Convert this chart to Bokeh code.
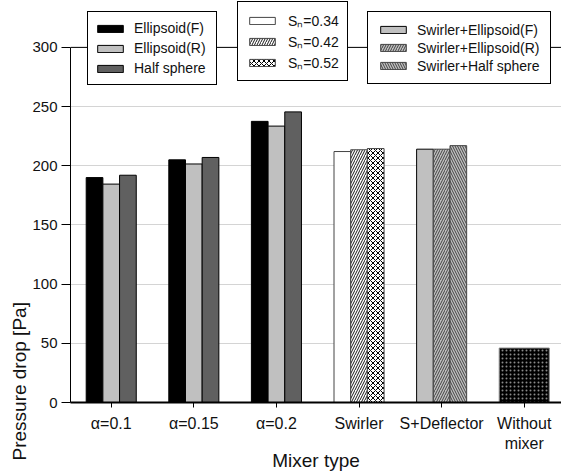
import math
from bokeh.plotting import figure
from bokeh.models import (Range1d, FixedTicker, Legend, LegendItem, Span, Title,
                          ColumnDataSource)
from bokeh.transform import dodge
from bokeh.embed import file_html
from bokeh.resources import INLINE

# ---------------- data ----------------
categories = ["α=0.1", "α=0.15", "α=0.2", "Swirler", "S+Deflector", "Without\nmixer"]
cat_pos = [0, 1, 2, 3, 4, 5]

alpha_pos = [0, 1, 2]
ellipsoid_f = [190.0, 205.0, 237.5]
ellipsoid_r = [184.5, 201.5, 233.5]
half_sphere = [192.0, 207.0, 245.5]

swirler_pos = [3]
sn_labels = ["Sₙ=0.34", "Sₙ=0.42", "Sₙ=0.52"]
swirler_sn034 = [212.0]
swirler_sn042 = [213.5]
swirler_sn052 = [214.5]

deflector_pos = [4]
swirler_ell_f = [214.0]
swirler_ell_r = [214.0]
swirler_half = [217.0]

without_pos = [5]
without_mixer = [46.0]

y_ticks = [0, 50, 100, 150, 200, 250, 300]

FONT = "Liberation Sans"
TXT = "#111111"
BW = 0.202

p = figure(width=561, height=473, x_range=Range1d(-0.493, 5.451), y_range=Range1d(0, 339.6),
           output_backend="svg", toolbar_location=None, title=None,
           min_border_left=70, min_border_right=0, min_border_top=0, min_border_bottom=70)
p.outline_line_color = None
p.xgrid.grid_line_color = None
p.ygrid.grid_line_color = "#d4d4d4"
p.ygrid.ticker = FixedTicker(ticks=y_ticks)

# ---------------- bars ----------------
src_a = ColumnDataSource(dict(x=alpha_pos, f=ellipsoid_f, r=ellipsoid_r, h=half_sphere))
r_f = p.vbar(x=dodge("x", -BW, range=p.x_range), top="f", width=BW, source=src_a,
             fill_color="black", line_color="black", line_width=1)
r_r = p.vbar(x=dodge("x", 0, range=p.x_range), top="r", width=BW, source=src_a,
             fill_color="#c0c0c0", line_color="black", line_width=1)
r_h = p.vbar(x=dodge("x", BW, range=p.x_range), top="h", width=BW, source=src_a,
             fill_color="#606060", line_color="black", line_width=1)

src_s = ColumnDataSource(dict(x=swirler_pos, a=swirler_sn034, b=swirler_sn042, c=swirler_sn052))
r_s1 = p.vbar(x=dodge("x", -BW, range=p.x_range), top="a", width=BW, source=src_s,
              fill_color="white", line_color="#444444", line_width=1)
r_s2 = p.vbar(x=dodge("x", 0, range=p.x_range), top="b", width=BW, source=src_s,
              fill_color="white", line_color="#444444", line_width=1,
              hatch_pattern="/", hatch_color="black", hatch_scale=5, hatch_weight=0.9)
r_s3 = p.vbar(x=dodge("x", BW, range=p.x_range), top="c", width=BW, source=src_s,
              fill_color="white", line_color="#444444", line_width=1,
              hatch_pattern="x", hatch_color="black", hatch_scale=5, hatch_weight=1.0)

src_d = ColumnDataSource(dict(x=deflector_pos, a=swirler_ell_f, b=swirler_ell_r, c=swirler_half))
r_d1 = p.vbar(x=dodge("x", -BW, range=p.x_range), top="a", width=BW, source=src_d,
              fill_color="#c0c0c0", line_color="black", line_width=1)
r_d2 = p.vbar(x=dodge("x", 0, range=p.x_range), top="b", width=BW, source=src_d,
              fill_color="#c0c0c0", line_color="#444444", line_width=1,
              hatch_pattern="/", hatch_color="#333333", hatch_scale=5, hatch_weight=0.9)
r_d3 = p.vbar(x=dodge("x", BW, range=p.x_range), top="c", width=BW, source=src_d,
              fill_color="#c0c0c0", line_color="#444444", line_width=1,
              hatch_pattern="\\", hatch_color="#333333", hatch_scale=5, hatch_weight=0.9)

src_w = ColumnDataSource(dict(x=without_pos, v=without_mixer))
r_w = p.vbar(x="x", top="v", width=3 * BW, source=src_w,
             fill_color="black", line_color="#888888", line_width=1,
             hatch_pattern=".", hatch_color="#8a8a8a", hatch_scale=4, hatch_weight=1)

# ---------------- axes ----------------
xa = p.xaxis[0]
xa.ticker = FixedTicker(ticks=cat_pos)
xa.major_label_overrides = {pos: lab for pos, lab in zip(cat_pos, categories)}
xa.axis_line_width = 2
xa.axis_line_color = "black"
xa.major_tick_out = 5
xa.major_tick_in = 0
xa.minor_tick_line_color = None
xa.major_label_standoff = 7
xa.major_label_text_font = FONT
xa.major_label_text_font_size = "16px"
xa.major_label_text_color = TXT
xa.axis_label = "Mixer type"
xa.axis_label_standoff = -5
xa.axis_label_text_font = FONT
xa.axis_label_text_font_size = "19px"
xa.axis_label_text_font_style = "normal"
xa.axis_label_text_color = TXT

ya = p.yaxis[0]
ya.ticker = FixedTicker(ticks=y_ticks)
ya.bounds = (0, 300)
ya.axis_line_color = "black"
ya.major_tick_out = 9
ya.major_tick_in = 0
ya.minor_tick_line_color = None
ya.major_label_standoff = 4
ya.major_label_text_font = FONT
ya.major_label_text_font_size = "15px"
ya.major_label_text_color = TXT

# y title, placed low on the left as in the reference
p.add_layout(Title(text="Pressure drop [Pa]", align="left", offset=-58, standoff=0,
                   text_font=FONT, text_font_size="19px", text_font_style="normal",
                   text_color=TXT), "left")

p.add_layout(Span(location=300, dimension="width", line_color="black", line_width=1))

# ---------------- legends ----------------
def make_legend(items, loc, padding, label_height, spacing, label_width, standoff):
    return Legend(items=items, location=loc, padding=padding, spacing=spacing,
                  label_height=label_height, label_width=label_width, label_standoff=standoff,
                  glyph_width=32, glyph_height=9, margin=0,
                  border_line_color="black", border_line_width=1, border_line_alpha=1,
                  background_fill_color="white", background_fill_alpha=1,
                  label_text_font=FONT, label_text_font_size="14px", label_text_color=TXT)

leg1 = make_legend([LegendItem(label="Ellipsoid(F)", renderers=[r_f]),
                    LegendItem(label="Ellipsoid(R)", renderers=[r_r]),
                    LegendItem(label="Half sphere", renderers=[r_h])],
                   (17, 317), 6, 20, 0, 76, 8)
leg2 = make_legend([LegendItem(label=sn_labels[0], renderers=[r_s1]),
                    LegendItem(label=sn_labels[1], renderers=[r_s2]),
                    LegendItem(label=sn_labels[2], renderers=[r_s3])],
                   (167, 321), 8, 20, 1, 44, 10)
leg3 = make_legend([LegendItem(label="Swirler+Ellipsoid(F)", renderers=[r_d1]),
                    LegendItem(label="Swirler+Ellipsoid(R)", renderers=[r_d2]),
                    LegendItem(label="Swirler+Half sphere", renderers=[r_d3])],
                   (297, 318), 9, 17, 1, 124, 8)
for lg in (leg1, leg2, leg3):
    p.add_layout(lg, "center")

open("out.html", "w").write(file_html(p, INLINE))
